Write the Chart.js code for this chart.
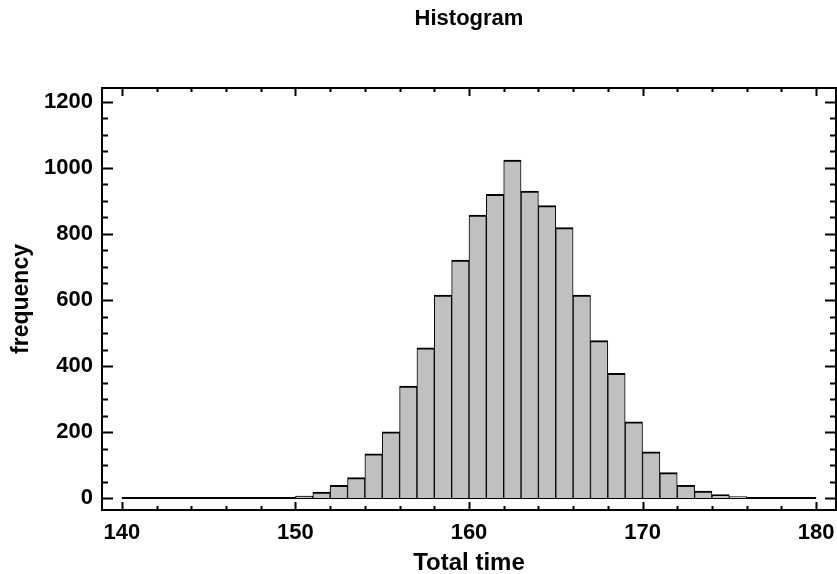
<!DOCTYPE html>
<html><head><meta charset="utf-8">
<script src="https://cdn.jsdelivr.net/npm/chart.js@4.4.0/dist/chart.umd.min.js"></script>
<style>html,body{margin:0;padding:0;background:#fff}#wrap{width:837px;height:574px}</style>
</head><body><div id="wrap"><canvas id="c" width="837" height="574"></canvas></div>
<script>
// ---- data ----
const binLower = [140,141,142,143,144,145,146,147,148,149,150,151,152,153,154,155,156,157,158,159,
                  160,161,162,163,164,165,166,167,168,169,170,171,172,173,174,175,176,177,178,179];
const binWidth = 1;
const frequency = [0,0,0,0,0,0,0,0,0,0,6,18,39,62,134,201,339,455,615,721,
                   857,920,1024,930,886,819,615,477,378,231,140,77,39,21,11,5,0,0,0,0];
const xTickValues = [140,150,160,170,180];
const yTickValues = [0,200,400,600,800,1000,1200];
const titleText = 'Histogram';
const xAxisLabel = 'Total time';
const yAxisLabel = 'frequency';

// ---- style ----
const FONT = "'Liberation Sans', Arial, sans-serif";
const xMinorStep = 2, yMinorStep = 50;

const barData = binLower.map((lo, i) => ({x: lo + binWidth / 2, y: frequency[i]}));
const baseData = [{x: binLower[0], y: 0}, {x: binLower[binLower.length - 1] + binWidth, y: 0}];

const framePlugin = {
  id: 'frame',
  afterDatasetsDraw(chart) {
    const {ctx, chartArea: a, scales: {x, y}} = chart;
    ctx.save();
    ctx.strokeStyle = '#000';
    ctx.lineWidth = 2;
    ctx.strokeRect(a.left, a.top, a.right - a.left, a.bottom - a.top);
    ctx.beginPath();
    const x0 = xTickValues[0], x1 = xTickValues[xTickValues.length - 1];
    const nx = Math.round((x1 - x0) / xMinorStep);
    for (let i = 0; i <= nx; i++) {
      const v = x0 + i * xMinorStep;
      const px = Math.round(x.getPixelForValue(v)) + 0.5;
      const len = xTickValues.includes(v) ? 8 : 4;
      ctx.moveTo(px, a.bottom); ctx.lineTo(px, a.bottom - len);
      ctx.moveTo(px, a.top); ctx.lineTo(px, a.top + len);
    }
    const y0 = yTickValues[0], y1 = yTickValues[yTickValues.length - 1];
    const ny = Math.round((y1 - y0) / yMinorStep);
    for (let i = 0; i <= ny; i++) {
      const v = y0 + i * yMinorStep;
      const py = Math.round(y.getPixelForValue(v)) + 0.5;
      const len = yTickValues.includes(v) ? 11 : 6;
      ctx.moveTo(a.left, py); ctx.lineTo(a.left + len, py);
      ctx.moveTo(a.right, py); ctx.lineTo(a.right - len, py);
    }
    ctx.stroke();
    ctx.restore();
  }
};

new Chart(document.getElementById('c'), {
  type: 'bar',
  data: {
    datasets: [
      {
        type: 'line',
        data: baseData,
        borderColor: '#000',
        borderWidth: 2,
        pointRadius: 0,
        order: 2
      },
      {
        type: 'bar',
        data: barData,
        backgroundColor: '#C0C0C0',
        borderColor: '#000',
        borderWidth: {top: 2, left: 1, right: 1, bottom: 0},
        borderSkipped: false,
        barPercentage: 1,
        categoryPercentage: 1,
        order: 1
      }
    ]
  },
  options: {
    responsive: false,
    animation: false,
    devicePixelRatio: 1,
    layout: {autoPadding: false, padding: {left: 0, right: 1, top: 0, bottom: 0}},
    plugins: {
      legend: {display: false},
      tooltip: {enabled: false},
      title: {
        display: true,
        fullSize: false,
        text: titleText,
        color: '#000',
        font: {family: FONT, size: 22, weight: 'bold', lineHeight: 1.2},
        padding: {top: 6, bottom: 55.6}
      }
    },
    scales: {
      x: {
        type: 'linear',
        min: 138.85,
        max: 181.15,
        offset: false,
        grid: {display: false, drawTicks: false},
        border: {display: false},
        afterBuildTicks: s => { s.ticks = xTickValues.map(v => ({value: v})); },
        afterFit: s => { s.height = 64; s.paddingLeft = 0; s.paddingRight = 0; },
        ticks: {
          color: '#000',
          padding: 10,
          maxRotation: 0,
          autoSkip: false,
          callback: v => String(v),
          font: {family: FONT, size: 22, weight: 'bold'}
        },
        title: {
          display: true,
          text: xAxisLabel,
          color: '#000',
          font: {family: FONT, size: 24, weight: 'bold', lineHeight: 1},
          padding: {top: 0, bottom: -1}
        }
      },
      y: {
        min: -36,
        max: 1242,
        grid: {display: false, drawTicks: false},
        border: {display: false},
        afterBuildTicks: s => { s.ticks = yTickValues.map(v => ({value: v})); },
        afterFit: s => { s.width = 102; s.paddingTop = 0; s.paddingBottom = 0; },
        ticks: {
          color: '#000',
          padding: 9,
          autoSkip: false,
          callback: v => String(v),
          font: {family: FONT, size: 22, weight: 'bold'}
        },
        title: {
          display: true,
          text: yAxisLabel,
          color: '#000',
          font: {family: FONT, size: 23, weight: 'bold', lineHeight: 1.2},
          padding: {top: 8, bottom: 0}
        }
      }
    }
  },
  plugins: [framePlugin]
});
</script>
</body></html>
